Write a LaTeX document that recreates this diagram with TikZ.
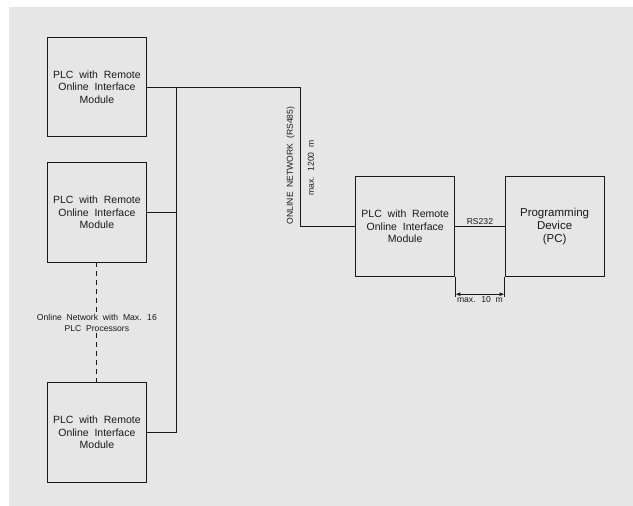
\documentclass[tikz,border=0pt]{standalone}
\usepackage{fontspec}
\setmainfont{Liberation Sans}[WordSpace=2]
\usepackage{tikz}
\usetikzlibrary{arrows.meta, positioning}
\definecolor{panegrey}{RGB}{230,230,230}
\definecolor{inkgrey}{RGB}{25,25,25}

\begin{document}
\begin{tikzpicture}[
    x=1pt, y=1pt,
    node distance=24.7pt,
    box/.style={draw=inkgrey, line width=0.9pt, minimum width=99.3pt,
                minimum height=99.5pt, align=center, inner sep=0pt,
                font=\fontsize{10.5}{12.5}\selectfont, text=inkgrey},
    wire/.style={draw=inkgrey, line width=0.9pt},
    lbl/.style={font=\fontsize{8.6}{11.3}\selectfont, text=inkgrey,
                inner sep=1pt, align=center},
    dim/.style={{Latex[length=5pt,width=4pt]}-{Latex[length=5pt,width=4pt]},
                line width=0.9pt, draw=inkgrey}
  ]
    \useasboundingbox (0,0) rectangle (633,506);
    \fill[panegrey] (9,0) rectangle (633,499.3);

    % left column of PLCs
    \node[box] (plcA) at (96.9,418.8)
      {PLC with Remote\\Online Interface\\Module};
    \node[box, below=of plcA] (plcB)
      {PLC with Remote\\Online Interface\\Module};
    \node[box] (plcC) at (96.9,73.6)
      {PLC with Remote\\Online Interface\\Module};
    \node[lbl] (note) at (96.9,183.3)
      {Online Network with Max. 16\\PLC Processors};

    % right side
    \node[box] (plcR) at (405.2,279.6)
      {PLC with Remote\\Online Interface\\Module};
    \node[box, right=49.2pt of plcR, font=\fontsize{11.5}{13.3}\selectfont] (pc)
      {Programming\\Device\\(PC)};

    \coordinate (bus) at (176.4,0);
    \coordinate (bend) at (300.8,418.8);
    \coordinate[below=20pt of plcR.south east] (dimL);
    \coordinate[below=20pt of pc.south west] (dimR);

    % network
    \draw[wire] (plcA.east) -- (bend) |- (plcR.west);
    \draw[wire] (plcA.east -| bus) -- (plcC.east -| bus) -- (plcC.east);
    \draw[wire] (plcB.east) -- (plcB.east -| bus);
    \draw[wire, dash pattern=on 5pt off 4pt] (plcB.south) -- (note.north);
    \draw[wire, dash pattern=on 5pt off 4pt] (note.south) -- (plcC.north);
    \draw[wire] (plcR.east) -- node[lbl, above] {RS232} (pc.west);

    \node[lbl, rotate=90] (rs485) at (290.7,340.5) {ONLINE NETWORK (RS485)};
    \node[lbl, rotate=90] (maxA) at (310.9,338) {max. 1200 m};

    % distance
    \draw[wire] (plcR.south east) -- (dimL);
    \draw[wire] (pc.south west) -- (dimR);
    \draw[dim] ([yshift=2.4pt]dimL) -- node[lbl, below=1pt] {max. 10 m} ([yshift=2.4pt]dimR);
  \end{tikzpicture}
\end{document}
